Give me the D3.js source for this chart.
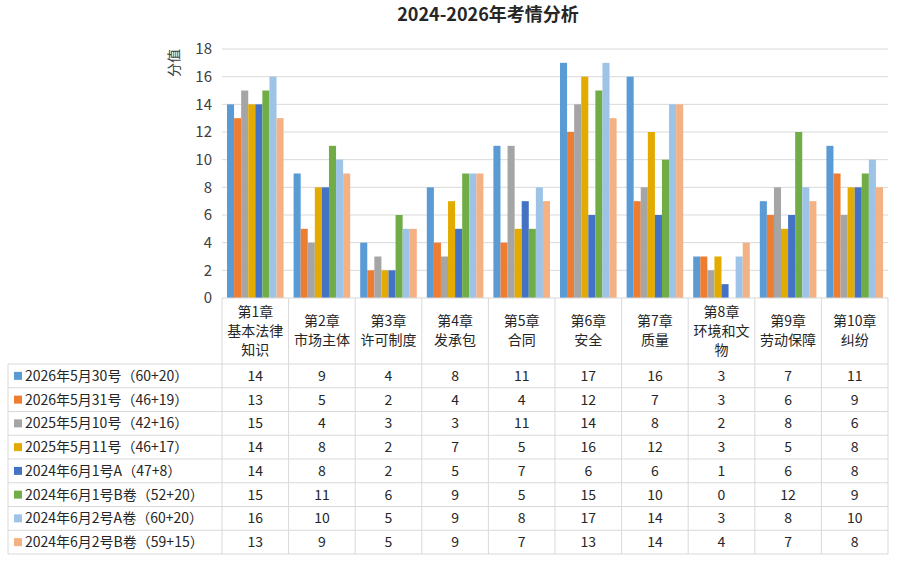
<!DOCTYPE html>
<html>
<head>
<meta charset="utf-8">
<script src="https://cdn.jsdelivr.net/npm/d3@7"></script>
<style>
  body { margin: 0; background: #fff; }
  text { font-family: "Noto Sans CJK SC", "Noto Sans", sans-serif; }
</style>
</head>
<body>
<div id="chart"></div>
<script>
// chapters (table header lines)
var chapters = [
    ["第1章", "基本法律", "知识"],
    ["第2章", "市场主体"],
    ["第3章", "许可制度"],
    ["第4章", "发承包"],
    ["第5章", "合同"],
    ["第6章", "安全"],
    ["第7章", "质量"],
    ["第8章", "环境和文", "物"],
    ["第9章", "劳动保障"],
    ["第10章", "纠纷"]
];

var seriesNames = [
    "2026年5月30号（60+20）",
    "2026年5月31号（46+19）",
    "2025年5月10号（42+16）",
    "2025年5月11号（46+17）",
    "2024年6月1号A（47+8）",
    "2024年6月1号B卷（52+20）",
    "2024年6月2号A卷（60+20）",
    "2024年6月2号B卷（59+15）"
];

var s2026a = [14, 9, 4, 8, 11, 17, 16, 3, 7, 11];
var s2026b = [13, 5, 2, 4, 4, 12, 7, 3, 6, 9];
var s2025a = [15, 4, 3, 3, 11, 14, 8, 2, 8, 6];
var s2025b = [14, 8, 2, 7, 5, 16, 12, 3, 5, 8];
var s2024a = [14, 8, 2, 5, 7, 6, 6, 1, 6, 8];
var s2024b = [15, 11, 6, 9, 5, 15, 10, 0, 12, 9];
var s2024c = [16, 10, 5, 9, 8, 17, 14, 3, 8, 10];
var s2024d = [13, 9, 5, 9, 7, 13, 14, 4, 7, 8];

var yTicks = [0, 2, 4, 6, 8, 10, 12, 14, 16, 18];

var seriesValues = [s2026a, s2026b, s2025a, s2025b, s2024a, s2024b, s2024c, s2024d];
var colors = ["#5B9BD5", "#ED7D31", "#A5A5A5", "#E3AB00", "#4472C4", "#70AD47", "#9DC3E6", "#F4B183"];

var W = 924, H = 567;
var plotLeft = 222, plotRight = 888, plotTop = 49, plotBottom = 298;
var tableLeft = 8, headerBottom = 364, rowH = 23.75;
var gridColor = "#D9D9D9", textColor = "#404040";

var svg = d3.select("#chart").append("svg")
    .attr("width", W)
    .attr("height", H);

var catIdx = d3.range(chapters.length);
var x0 = d3.scaleBand().domain(catIdx).range([plotLeft, plotRight]);
var x1 = d3.scaleBand().domain(d3.range(seriesNames.length))
    .range([5, x0.bandwidth() - 5]);
var y = d3.scaleLinear().domain([0, 18]).range([plotBottom, plotTop]);

// title
svg.append("text")
    .attr("x", 488).attr("y", 21)
    .attr("text-anchor", "middle")
    .attr("font-size", "18px")
    .attr("font-weight", "bold")
    .attr("fill", "#262626")
    .text("2024-2026年考情分析");

// gridlines
svg.append("g").selectAll("line")
    .data(yTicks.slice(1))
    .enter().append("line")
    .attr("x1", plotLeft).attr("x2", plotRight)
    .attr("y1", function(d) { return y(d); })
    .attr("y2", function(d) { return y(d); })
    .attr("stroke", gridColor);

// y axis
var yAxis = d3.axisLeft(y).tickValues(yTicks).tickSize(0).tickPadding(10);
var yg = svg.append("g")
    .attr("transform", "translate(" + plotLeft + ",0)")
    .call(yAxis);
yg.select(".domain").remove();
yg.selectAll("text")
    .attr("font-size", "15px")
    .attr("fill", textColor)
    .style("font-family", "'Noto Sans CJK SC', sans-serif");

svg.append("text")
    .attr("transform", "translate(179,63) rotate(-90)")
    .attr("text-anchor", "middle")
    .attr("font-size", "14px")
    .attr("fill", textColor)
    .text("分值");

// bars
var groups = svg.append("g").selectAll("g")
    .data(seriesValues)
    .enter().append("g")
    .attr("fill", function(d, i) { return colors[i]; });

groups.each(function(vals, si) {
    d3.select(this).selectAll("rect")
        .data(vals)
        .enter().append("rect")
        .attr("x", function(d, ci) { return x0(ci) + x1(si); })
        .attr("y", function(d) { return y(d); })
        .attr("width", x1.bandwidth())
        .attr("height", function(d) { return plotBottom - y(d); });
});

// data table
var table = svg.append("g");
var tableBottom = headerBottom + rowH * seriesNames.length;

// horizontal lines
table.append("line")
    .attr("x1", plotLeft).attr("x2", plotRight)
    .attr("y1", plotBottom).attr("y2", plotBottom)
    .attr("stroke", gridColor);
table.selectAll(".hline")
    .data(d3.range(seriesNames.length + 1))
    .enter().append("line")
    .attr("class", "hline")
    .attr("x1", tableLeft).attr("x2", plotRight)
    .attr("y1", function(i) { return headerBottom + i * rowH; })
    .attr("y2", function(i) { return headerBottom + i * rowH; })
    .attr("stroke", gridColor);

// vertical lines
table.selectAll(".vline")
    .data(catIdx.concat([chapters.length]))
    .enter().append("line")
    .attr("class", "vline")
    .attr("x1", function(i) { return i < chapters.length ? x0(i) : plotRight; })
    .attr("x2", function(i) { return i < chapters.length ? x0(i) : plotRight; })
    .attr("y1", plotBottom).attr("y2", tableBottom)
    .attr("stroke", gridColor);
table.append("line")
    .attr("x1", tableLeft).attr("x2", tableLeft)
    .attr("y1", headerBottom).attr("y2", tableBottom)
    .attr("stroke", gridColor);

// header text
var lineH = 19;
table.selectAll(".head")
    .data(chapters)
    .enter().append("text")
    .attr("class", "head")
    .attr("text-anchor", "middle")
    .attr("font-size", "14px")
    .attr("fill", "#262626")
    .each(function(lines, ci) {
        var cy = (plotBottom + headerBottom) / 2 - (lines.length - 1) * lineH / 2;
        d3.select(this).selectAll("tspan")
            .data(lines)
            .enter().append("tspan")
            .attr("x", x0(ci) + x0.bandwidth() / 2)
            .attr("y", function(d, k) { return cy + k * lineH; })
            .attr("dy", "0.35em")
            .text(function(d) { return d; });
    });

// row labels with legend keys
var rows = table.selectAll(".row")
    .data(seriesNames)
    .enter().append("g")
    .attr("class", "row")
    .attr("transform", function(d, i) {
        return "translate(0," + (headerBottom + i * rowH + rowH / 2) + ")";
    });

rows.append("rect")
    .attr("x", 14).attr("y", -4)
    .attr("width", 8).attr("height", 8)
    .attr("fill", function(d, i) { return colors[i]; });

rows.append("text")
    .attr("x", 25).attr("dy", "0.35em")
    .attr("font-size", "14px")
    .attr("fill", "#262626")
    .text(function(d) { return d; });

rows.each(function(name, si) {
    d3.select(this).selectAll(".val")
        .data(seriesValues[si])
        .enter().append("text")
        .attr("class", "val")
        .attr("x", function(d, ci) { return x0(ci) + x0.bandwidth() / 2; })
        .attr("dy", "0.35em")
        .attr("text-anchor", "middle")
        .attr("font-size", "14px")
        .attr("fill", "#262626")
        .text(function(d) { return d; });
});
</script>
</body>
</html>
